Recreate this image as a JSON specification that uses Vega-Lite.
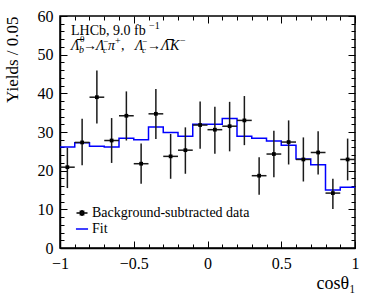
{
  "$schema": "https://vega.github.io/schema/vega-lite/v6.json",
  "width": 295,
  "height": 232,
  "autosize": "none",
  "padding": {"left": 60, "top": 16, "right": 19, "bottom": 48},
  "background": "white",
  "config": {
    "font": "Liberation Serif",
    "view": {"stroke": "black", "strokeWidth": 1.5},
    "text": {"font": "Liberation Serif"},
    "axis": {
      "labelFont": "Liberation Serif", "labelFontSize": 16, "labelColor": "black",
      "titleFont": "Liberation Serif", "titleFontSize": 18, "titleFontWeight": "normal", "titleColor": "black",
      "tickColor": "black", "tickWidth": 1, "domainColor": "black", "domainWidth": 1.5, "grid": false,
      "labelFlush": false, "labelOverlap": false
    },
    "legend": {
      "orient": "none", "legendX": 15, "legendY": 190, "padding": 0,
      "labelFont": "Liberation Serif", "labelFontSize": 14, "labelColor": "black",
      "symbolStrokeWidth": 1.5, "symbolSize": 121, "symbolOpacity": 1, "rowPadding": 2, "labelOffset": 3
    }
  },
  "datasets": {
    "pts": [
      {"x": -0.95, "xl": -1.0, "xh": -0.9, "y": 20.9, "yl": 15.5, "yh": 25.9},
      {"x": -0.85, "xl": -0.9, "xh": -0.8, "y": 27.3, "yl": 21.4, "yh": 33.4},
      {"x": -0.75, "xl": -0.8, "xh": -0.7, "y": 39.0, "yl": 32.2, "yh": 45.9},
      {"x": -0.65, "xl": -0.7, "xh": -0.6, "y": 27.8, "yl": 22.0, "yh": 33.6},
      {"x": -0.55, "xl": -0.6, "xh": -0.5, "y": 34.2, "yl": 27.8, "yh": 40.5},
      {"x": -0.45, "xl": -0.5, "xh": -0.4, "y": 21.8, "yl": 16.6, "yh": 27.0},
      {"x": -0.35, "xl": -0.4, "xh": -0.3, "y": 34.7, "yl": 28.2, "yh": 41.1},
      {"x": -0.25, "xl": -0.3, "xh": -0.2, "y": 23.7, "yl": 17.9, "yh": 29.5},
      {"x": -0.15, "xl": -0.2, "xh": -0.1, "y": 25.3, "yl": 19.2, "yh": 31.2},
      {"x": -0.05, "xl": -0.1, "xh": 0.0, "y": 31.8, "yl": 25.7, "yh": 37.9},
      {"x": 0.05, "xl": 0.0, "xh": 0.1, "y": 30.6, "yl": 24.4, "yh": 36.5},
      {"x": 0.15, "xl": 0.1, "xh": 0.2, "y": 31.5, "yl": 25.0, "yh": 37.8},
      {"x": 0.25, "xl": 0.2, "xh": 0.3, "y": 33.0, "yl": 26.6, "yh": 39.3},
      {"x": 0.35, "xl": 0.3, "xh": 0.4, "y": 18.7, "yl": 13.8, "yh": 23.5},
      {"x": 0.45, "xl": 0.4, "xh": 0.5, "y": 24.3, "yl": 18.3, "yh": 30.3},
      {"x": 0.55, "xl": 0.5, "xh": 0.6, "y": 27.4, "yl": 21.6, "yh": 33.0},
      {"x": 0.65, "xl": 0.6, "xh": 0.7, "y": 22.9, "yl": 17.2, "yh": 28.6},
      {"x": 0.75, "xl": 0.7, "xh": 0.8, "y": 24.7, "yl": 19.0, "yh": 30.2},
      {"x": 0.85, "xl": 0.8, "xh": 0.9, "y": 14.2, "yl": 10.1, "yh": 17.9},
      {"x": 0.95, "xl": 0.9, "xh": 1.0, "y": 22.9, "yl": 17.5, "yh": 28.3}
    ],
    "fit": [
      {"x": -1.0, "y": 26.1}, {"x": -0.9, "y": 27.2}, {"x": -0.8, "y": 26.3}, {"x": -0.7, "y": 26.1},
      {"x": -0.6, "y": 28.4}, {"x": -0.5, "y": 28.0}, {"x": -0.4, "y": 31.3}, {"x": -0.3, "y": 29.9},
      {"x": -0.2, "y": 28.9}, {"x": -0.1, "y": 32.0}, {"x": 0.0, "y": 32.0}, {"x": 0.1, "y": 33.5},
      {"x": 0.2, "y": 28.9}, {"x": 0.3, "y": 28.4}, {"x": 0.4, "y": 27.7}, {"x": 0.5, "y": 26.6},
      {"x": 0.6, "y": 23.0}, {"x": 0.7, "y": 21.5}, {"x": 0.8, "y": 15.0}, {"x": 0.9, "y": 15.7},
      {"x": 1.0, "y": 15.7}
    ],
    "leg": [{"s": "Background-subtracted data"}, {"s": "Fit"}],
    "one": [{}]
  },
  "layer": [
    {
      "data": {"name": "fit"},
      "mark": {"type": "line", "interpolate": "step-after", "color": "blue", "strokeWidth": 1.5},
      "encoding": {
        "x": {"field": "x", "type": "quantitative", "scale": {"domain": [-1, 1], "nice": false, "zero": false},
          "axis": {"orient": "bottom",
            "values": [-1, -0.9, -0.8, -0.7, -0.6, -0.5, -0.4, -0.3, -0.2, -0.1, 0, 0.1, 0.2, 0.3, 0.4, 0.5, 0.6, 0.7, 0.8, 0.9, 1],
            "format": "~g",
            "labelFont": "Liberation Serif", "titleFont": "Liberation Serif",
            "labelExpr": "abs(datum.value*2-round(datum.value*2))<1e-6 ? datum.label : ''",
            "tickSize": {"condition": {"test": "abs(datum.value*2-round(datum.value*2))<1e-6", "value": -7}, "value": -4},
            "labelPadding": 14,
            "title": "cosθ₁", "titleAnchor": "end", "titleAlign": "right", "titlePadding": 0, "titleFontSize": 18}},
        "y": {"field": "y", "type": "quantitative", "scale": {"domain": [0, 60], "nice": false},
          "axis": {"orient": "left",
            "values": [0, 2, 4, 6, 8, 10, 12, 14, 16, 18, 20, 22, 24, 26, 28, 30, 32, 34, 36, 38, 40, 42, 44, 46, 48, 50, 52, 54, 56, 58, 60],
            "format": "~g",
            "labelFont": "Liberation Serif", "titleFont": "Liberation Serif",
            "labelExpr": "datum.value % 10 == 0 ? datum.label : ''",
            "tickSize": {"condition": {"test": "datum.value % 10 == 0", "value": -7}, "value": -4},
            "labelPadding": 14,
            "title": "Yields / 0.05", "titleAnchor": "end", "titlePadding": 16, "titleFontSize": 17}}
      }
    },
    {
      "data": {"name": "pts"},
      "mark": {"type": "rule", "color": "#1a1a1a", "strokeWidth": 1.5},
      "encoding": {
        "x": {"field": "xl", "type": "quantitative",
          "axis": {"orient": "top", "labels": false, "title": null, "domain": false,
            "values": [-1, -0.9, -0.8, -0.7, -0.6, -0.5, -0.4, -0.3, -0.2, -0.1, 0, 0.1, 0.2, 0.3, 0.4, 0.5, 0.6, 0.7, 0.8, 0.9, 1],
            "tickSize": {"condition": {"test": "abs(datum.value*2-round(datum.value*2))<1e-6", "value": -7}, "value": -4}}},
        "x2": {"field": "xh"},
        "y": {"field": "y", "type": "quantitative",
          "axis": {"orient": "right", "labels": false, "title": null, "domain": false,
            "values": [0, 2, 4, 6, 8, 10, 12, 14, 16, 18, 20, 22, 24, 26, 28, 30, 32, 34, 36, 38, 40, 42, 44, 46, 48, 50, 52, 54, 56, 58, 60],
            "tickSize": {"condition": {"test": "datum.value % 10 == 0", "value": -7}, "value": -4}}}
      }
    },
    {
      "data": {"name": "pts"},
      "mark": {"type": "rule", "color": "#1a1a1a", "strokeWidth": 1.5},
      "encoding": {
        "x": {"field": "x", "type": "quantitative", "axis": null},
        "y": {"field": "yl", "type": "quantitative", "axis": null},
        "y2": {"field": "yh"}
      }
    },
    {
      "data": {"name": "pts"},
      "mark": {"type": "square", "color": "black", "filled": true, "size": 14, "opacity": 1},
      "encoding": {
        "x": {"field": "x", "type": "quantitative", "axis": null},
        "y": {"field": "y", "type": "quantitative", "axis": null}
      }
    },
    {
      "data": {"name": "leg"},
      "mark": {"type": "point", "filled": false, "opacity": 0, "strokeWidth": 1.5},
      "encoding": {
        "color": {"field": "s", "type": "nominal", "title": null,
          "legend": {"labelFont": "Liberation Serif", "labelFontSize": 14},
          "scale": {"domain": ["Background-subtracted data", "Fit"], "range": ["black", "blue"]}},
        "shape": {"field": "s", "type": "nominal", "title": null,
          "legend": {"labelFont": "Liberation Serif", "labelFontSize": 14},
          "scale": {"domain": ["Background-subtracted data", "Fit"],
            "range": ["M-1,0H1M0,-0.55V0.55M-0.3,-0.3H0.3V0.3H-0.3Z", "M-1.1,0H1.1"]}}
      }
    },
    {
      "data": {"name": "one"},
      "mark": {"type": "text", "align": "left", "baseline": "alphabetic", "font": "Liberation Serif", "fontSize": 14, "color": "black"},
      "encoding": {"x": {"datum": -0.9254, "type": "quantitative", "axis": null}, "y": {"datum": 55.1, "type": "quantitative", "axis": null}, "text": {"value": "LHCb, 9.0 fb"}}
    },
    {
      "data": {"name": "one"},
      "mark": {"type": "text", "align": "left", "baseline": "alphabetic", "font": "Liberation Serif", "fontSize": 10, "color": "black", "dx": 78, "dy": -6},
      "encoding": {"x": {"datum": -0.9254, "type": "quantitative", "axis": null}, "y": {"datum": 55.1, "type": "quantitative", "axis": null}, "text": {"value": "−1"}}
    },
    {
      "data": {"name": "one"},
      "mark": {"type": "text", "align": "left", "baseline": "alphabetic", "font": "Liberation Serif", "fontSize": 14, "fontStyle": "italic", "color": "black", "dx": 0},
      "encoding": {"x": {"datum": -0.9254, "type": "quantitative", "axis": null}, "y": {"datum": 51.2, "type": "quantitative", "axis": null}, "text": {"value": "Λ̅"}}
    },
    {
      "data": {"name": "one"},
      "mark": {"type": "text", "align": "left", "baseline": "alphabetic", "font": "Liberation Serif", "fontSize": 9, "color": "black", "dx": 9, "dy": -8},
      "encoding": {"x": {"datum": -0.9254, "type": "quantitative", "axis": null}, "y": {"datum": 51.2, "type": "quantitative", "axis": null}, "text": {"value": "0"}}
    },
    {
      "data": {"name": "one"},
      "mark": {"type": "text", "align": "left", "baseline": "alphabetic", "font": "Liberation Serif", "fontSize": 10, "fontStyle": "italic", "color": "black", "dx": 8, "dy": 3},
      "encoding": {"x": {"datum": -0.9254, "type": "quantitative", "axis": null}, "y": {"datum": 51.2, "type": "quantitative", "axis": null}, "text": {"value": "b"}}
    },
    {
      "data": {"name": "one"},
      "mark": {"type": "text", "align": "left", "baseline": "alphabetic", "font": "Liberation Serif", "fontSize": 14, "color": "black", "dx": 12},
      "encoding": {"x": {"datum": -0.9254, "type": "quantitative", "axis": null}, "y": {"datum": 51.2, "type": "quantitative", "axis": null}, "text": {"value": "→"}}
    },
    {
      "data": {"name": "one"},
      "mark": {"type": "text", "align": "left", "baseline": "alphabetic", "font": "Liberation Serif", "fontSize": 14, "fontStyle": "italic", "color": "black", "dx": 25},
      "encoding": {"x": {"datum": -0.9254, "type": "quantitative", "axis": null}, "y": {"datum": 51.2, "type": "quantitative", "axis": null}, "text": {"value": "Λ"}}
    },
    {
      "data": {"name": "one"},
      "mark": {"type": "text", "align": "left", "baseline": "alphabetic", "font": "Liberation Serif", "fontSize": 9, "fontStyle": "italic", "color": "black", "dx": 32, "dy": 3},
      "encoding": {"x": {"datum": -0.9254, "type": "quantitative", "axis": null}, "y": {"datum": 51.2, "type": "quantitative", "axis": null}, "text": {"value": "c"}}
    },
    {
      "data": {"name": "one"},
      "mark": {"type": "text", "align": "left", "baseline": "alphabetic", "font": "Liberation Serif", "fontSize": 9, "color": "black", "dx": 32, "dy": -6},
      "encoding": {"x": {"datum": -0.9254, "type": "quantitative", "axis": null}, "y": {"datum": 51.2, "type": "quantitative", "axis": null}, "text": {"value": "−"}}
    },
    {
      "data": {"name": "one"},
      "mark": {"type": "text", "align": "left", "baseline": "alphabetic", "font": "Liberation Serif", "fontSize": 14, "fontStyle": "italic", "color": "black", "dx": 37},
      "encoding": {"x": {"datum": -0.9254, "type": "quantitative", "axis": null}, "y": {"datum": 51.2, "type": "quantitative", "axis": null}, "text": {"value": "π"}}
    },
    {
      "data": {"name": "one"},
      "mark": {"type": "text", "align": "left", "baseline": "alphabetic", "font": "Liberation Serif", "fontSize": 10, "color": "black", "dx": 44, "dy": -6},
      "encoding": {"x": {"datum": -0.9254, "type": "quantitative", "axis": null}, "y": {"datum": 51.2, "type": "quantitative", "axis": null}, "text": {"value": "+"}}
    },
    {
      "data": {"name": "one"},
      "mark": {"type": "text", "align": "left", "baseline": "alphabetic", "font": "Liberation Serif", "fontSize": 14, "color": "black", "dx": 50},
      "encoding": {"x": {"datum": -0.9254, "type": "quantitative", "axis": null}, "y": {"datum": 51.2, "type": "quantitative", "axis": null}, "text": {"value": ","}}
    },
    {
      "data": {"name": "one"},
      "mark": {"type": "text", "align": "left", "baseline": "alphabetic", "font": "Liberation Serif", "fontSize": 14, "fontStyle": "italic", "color": "black", "dx": 64},
      "encoding": {"x": {"datum": -0.9254, "type": "quantitative", "axis": null}, "y": {"datum": 51.2, "type": "quantitative", "axis": null}, "text": {"value": "Λ"}}
    },
    {
      "data": {"name": "one"},
      "mark": {"type": "text", "align": "left", "baseline": "alphabetic", "font": "Liberation Serif", "fontSize": 9, "fontStyle": "italic", "color": "black", "dx": 71, "dy": 3},
      "encoding": {"x": {"datum": -0.9254, "type": "quantitative", "axis": null}, "y": {"datum": 51.2, "type": "quantitative", "axis": null}, "text": {"value": "c"}}
    },
    {
      "data": {"name": "one"},
      "mark": {"type": "text", "align": "left", "baseline": "alphabetic", "font": "Liberation Serif", "fontSize": 9, "color": "black", "dx": 71, "dy": -6},
      "encoding": {"x": {"datum": -0.9254, "type": "quantitative", "axis": null}, "y": {"datum": 51.2, "type": "quantitative", "axis": null}, "text": {"value": "−"}}
    },
    {
      "data": {"name": "one"},
      "mark": {"type": "text", "align": "left", "baseline": "alphabetic", "font": "Liberation Serif", "fontSize": 14, "color": "black", "dx": 76},
      "encoding": {"x": {"datum": -0.9254, "type": "quantitative", "axis": null}, "y": {"datum": 51.2, "type": "quantitative", "axis": null}, "text": {"value": "→"}}
    },
    {
      "data": {"name": "one"},
      "mark": {"type": "text", "align": "left", "baseline": "alphabetic", "font": "Liberation Serif", "fontSize": 14, "fontStyle": "italic", "color": "black", "dx": 90},
      "encoding": {"x": {"datum": -0.9254, "type": "quantitative", "axis": null}, "y": {"datum": 51.2, "type": "quantitative", "axis": null}, "text": {"value": "Λ̅"}}
    },
    {
      "data": {"name": "one"},
      "mark": {"type": "text", "align": "left", "baseline": "alphabetic", "font": "Liberation Serif", "fontSize": 14, "fontStyle": "italic", "color": "black", "dx": 99},
      "encoding": {"x": {"datum": -0.9254, "type": "quantitative", "axis": null}, "y": {"datum": 51.2, "type": "quantitative", "axis": null}, "text": {"value": "K"}}
    },
    {
      "data": {"name": "one"},
      "mark": {"type": "text", "align": "left", "baseline": "alphabetic", "font": "Liberation Serif", "fontSize": 10, "color": "black", "dx": 109, "dy": -6},
      "encoding": {"x": {"datum": -0.9254, "type": "quantitative", "axis": null}, "y": {"datum": 51.2, "type": "quantitative", "axis": null}, "text": {"value": "−"}}
    }
  ],
  "resolve": {"axis": {"x": "independent", "y": "independent"}}
}
